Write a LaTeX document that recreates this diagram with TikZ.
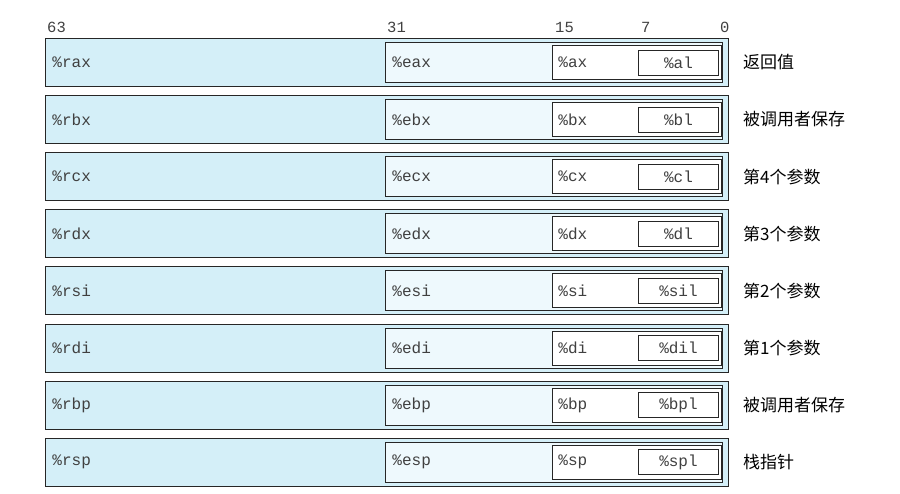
\documentclass[tikz,border=0pt]{standalone}
\usepackage{fontspec}
\setmonofont{Liberation Mono}
\newfontfamily\cjk{Noto Sans CJK SC}
\usepackage{tikz}
\usetikzlibrary{positioning}
\definecolor{qwordfill}{RGB}{212,239,248}
\definecolor{dwordfill}{RGB}{238,249,253}
\tikzstyle{reg}=[rectangle,draw=black!85,line width=0.9pt,inner ysep=0pt,anchor=north west,font=\ttfamily\fontsize{16}{16}\selectfont,text=black!75]
\tikzstyle{qword}=[reg,fill=qwordfill,minimum width=683pt,minimum height=48pt,inner xsep=7pt,text width=669pt]
\tikzstyle{dword}=[reg,fill=dwordfill,minimum width=337pt,minimum height=40pt,inner xsep=7pt,text width=323pt]
\tikzstyle{word}=[reg,fill=white,minimum width=169pt,minimum height=34pt,inner xsep=6pt,text width=157pt]
\tikzstyle{byte}=[reg,fill=white,minimum width=80pt,minimum height=25pt,inner xsep=0pt]
\tikzstyle{bitno}=[anchor=west,inner sep=0pt,font=\ttfamily\fontsize{15.5}{15.5}\selectfont,text=black!75]
\tikzstyle{usage}=[anchor=west,inner sep=0pt,font=\cjk\fontsize{17}{17}\selectfont]

\begin{document}
\begin{tikzpicture}[x=1pt,y=-1pt]
    \useasboundingbox (0,0) rectangle (900,493);
    % Bit numbers above the first row
    \foreach \pos/\name/\bit in {47/b63/63, 387/b31/31, 555/b15/15, 641/b7/7, 720/b0/0}
        \node[bitno] (\name) at (\pos,27) {\bit};

    % One row for each register, the smaller parts drawn inside
    \foreach \i/\qreg/\dreg/\wreg/\breg/\role in {0/rax/eax/ax/al/返回值, 1/rbx/ebx/bx/bl/被调用者保存, 2/rcx/ecx/cx/cl/第4个参数, 3/rdx/edx/dx/dl/第3个参数, 4/rsi/esi/si/sil/第2个参数, 5/rdi/edi/di/dil/第1个参数, 6/rbp/ebp/bp/bpl/被调用者保存, 7/rsp/esp/sp/spl/栈指针}
    {
        \pgfmathsetmacro{\rowtop}{38+57.1*\i}
        \node[qword] (\qreg) at (45,\rowtop) {\%\qreg};
        \node[dword] (\dreg) at (385,\rowtop+4) {\%\dreg};
        \node[word] (\wreg) at (552,\rowtop+7) {\%\wreg};
        \node[byte] (\breg) at (638,\rowtop+11.5) {\%\breg};
        \node[usage, right=14pt of \qreg] (use\qreg) {\role};
    }
\end{tikzpicture}
\end{document}
